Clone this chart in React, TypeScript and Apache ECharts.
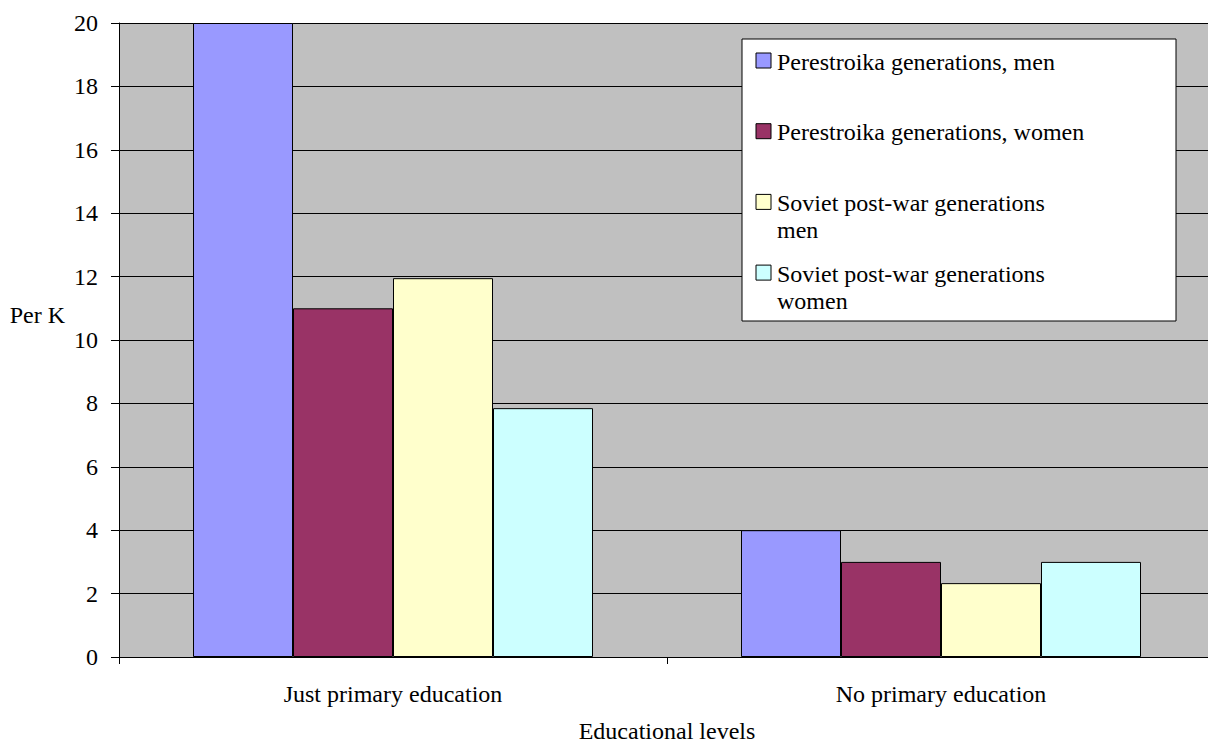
import React, { useEffect, useRef } from "react";
import * as echarts from "echarts";

const categories = ["Just primary education", "No primary education"];
const seriesNames = [
  "Perestroika generations, men",
  "Perestroika generations, women",
  "Soviet post-war generations\nmen",
  "Soviet post-war generations\nwomen",
];
const seriesColors = ["#9999FF", "#993366", "#FFFFCC", "#CCFFFF"];
const perestroikaMen = [20, 4];
const perestroikaWomen = [11, 3];
const sovietMen = [11.95, 2.33];
const sovietWomen = [7.85, 3];
const seriesValues = [perestroikaMen, perestroikaWomen, sovietMen, sovietWomen];
const yTicks = [0, 2, 4, 6, 8, 10, 12, 14, 16, 18, 20];

const FONT = "Liberation Serif";
const FS = 24;
const W = 1208;
const H = 744;

export default function App() {
  const ref = useRef<HTMLDivElement>(null);
  useEffect(() => {
    if (!ref.current) return;
    const chart = echarts.init(ref.current, null, { renderer: "svg", width: W, height: H });
    const legendItems: any[] = [
      {
        type: "rect",
        shape: { x: 742, y: 39, width: 434, height: 282 },
        style: { fill: "#fff", stroke: "#000", lineWidth: 1 },
        z: 100,
      },
    ];
    seriesNames.forEach((name, i) => {
      const rowTop = 53 + i * 70.7;
      legendItems.push({
        type: "rect",
        shape: { x: 756, y: rowTop, width: 15, height: 15 },
        style: { fill: seriesColors[i], stroke: "#000", lineWidth: 1 },
        z: 101,
      });
      legendItems.push({
        type: "text",
        x: 777,
        y: rowTop - 5,
        style: {
          text: name,
          fontFamily: FONT,
          fontSize: FS,
          fill: "#000",
          lineHeight: 27,
          verticalAlign: "top",
          align: "left",
        },
        z: 101,
      });
    });
    chart.setOption({
      animation: false,
      textStyle: { fontFamily: FONT, fontSize: FS, color: "#000" },
      grid: {
        left: 119,
        top: 23,
        right: -7,
        bottom: 87,
        outerBoundsMode: "none",
        containLabel: false,
        show: true,
        backgroundColor: "#C0C0C0",
        borderWidth: 0,
      },
      xAxis: {
        type: "category",
        data: categories,
        name: "Educational levels",
        nameLocation: "middle",
        nameGap: 62,
        nameTextStyle: { fontFamily: FONT, fontSize: FS, color: "#000", verticalAlign: "top" },
        axisLine: { lineStyle: { color: "#000", width: 1 } },
        axisTick: { show: true, length: 7, lineStyle: { color: "#000" } },
        axisLabel: { fontFamily: FONT, fontSize: FS, color: "#000", margin: 25 },
      },
      yAxis: {
        type: "value",
        min: 0,
        max: 20,
        interval: 2,
        name: "Per K",
        nameLocation: "middle",
        nameRotate: 0,
        nameGap: 54,
        nameTextStyle: {
          fontFamily: FONT,
          fontSize: FS,
          color: "#000",
          verticalAlign: "bottom",
          lineHeight: 50,
        },
        axisLine: { show: true, lineStyle: { color: "#000", width: 1 } },
        axisTick: { show: true, length: 8, lineStyle: { color: "#000" } },
        axisLabel: {
          fontFamily: FONT,
          fontSize: FS,
          color: "#000",
          margin: 21,
          formatter: (v: number) => (yTicks.includes(v) ? String(v) : ""),
        },
        splitLine: { show: true, lineStyle: { color: "#000", width: 1 } },
      },
      series: seriesNames.map((name, i) => ({
        type: "bar",
        name,
        data: seriesValues[i],
        barWidth: 100,
        barGap: "0%",
        itemStyle: { color: seriesColors[i], borderColor: "#000", borderWidth: 1 },
      })),
      graphic: legendItems,
    });
    return () => chart.dispose();
  }, []);
  return (
    <div style={{ position: "absolute", left: 0, top: 0, width: W, height: H }}>
      <span
        style={{
          position: "absolute",
          left: 2,
          top: 2,
          fontFamily: FONT,
          fontSize: FS,
          color: "transparent",
        }}
      >
        .
      </span>
      <div
        ref={ref}
        style={{ position: "absolute", left: 0, top: 0, width: W, height: H }}
      />
    </div>
  );
}
